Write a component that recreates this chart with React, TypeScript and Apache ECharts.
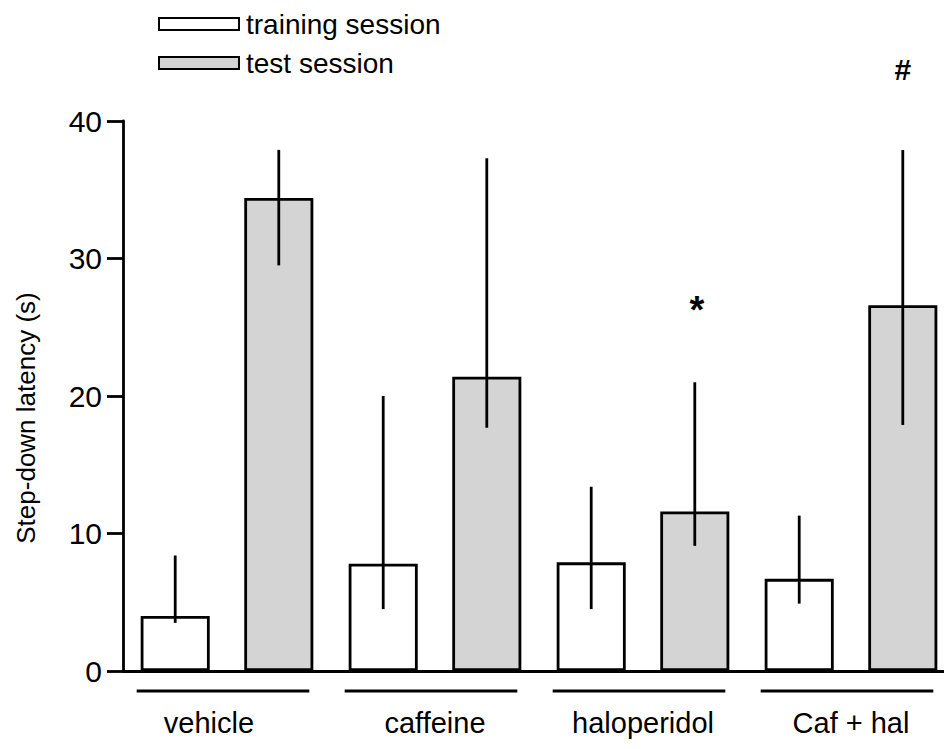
import React, { useEffect, useRef } from "react";
import * as echarts from "echarts";

const categories = ["vehicle", "caffeine", "haloperidol", "Caf + hal"];
const seriesNames = ["training session", "test session"];
const training = [4.0, 7.8, 7.9, 6.7];
const trainingLow = [3.5, 4.5, 4.5, 4.9];
const trainingHigh = [8.4, 20.0, 13.4, 11.3];
const test = [34.4, 21.4, 11.6, 26.6];
const testLow = [29.5, 17.7, 9.1, 17.9];
const testHigh = [37.9, 37.3, 21.0, 37.9];
const trainingMarks = ["", "", "", ""];
const testMarks = ["", "", "*", "#"];
const yTicks = [0, 10, 20, 30, 40];

const CAT_GAP = 0.17;
const BAR_GAP = 0.5;
const LW = 2.8;
const FONT = "Liberation Sans, Arial, Helvetica, sans-serif";

export default function App() {
  const ref = useRef<HTMLDivElement>(null);
  useEffect(() => {
    if (!ref.current) return;
    const chart = echarts.init(ref.current, null, { renderer: "svg" });
    const marks = [trainingMarks, testMarks];
    const errData: number[][] = [];
    categories.forEach((_, i) => {
      errData.push([i, trainingLow[i], trainingHigh[i], 0]);
      errData.push([i, testLow[i], testHigh[i], 1]);
    });
    const option: any = {
      animation: false,
      backgroundColor: "#fff",
      textStyle: { fontFamily: FONT, color: "#000" },
      legend: {
        data: seriesNames.map((n) => ({ name: n, icon: "rect" })),
        orient: "vertical",
        left: 153,
        top: 5,
        itemWidth: 80,
        itemHeight: 12,
        itemGap: 11,
        textStyle: { fontSize: 28, color: "#000", fontFamily: FONT, padding: [0, 0, 0, 2] },
        selectedMode: false,
      },
      grid: {
        left: 123,
        top: 121,
        width: 832,
        height: 550,
        containLabel: false,
        outerBoundsMode: "none",
      },
      xAxis: {
        type: "category",
        data: categories,
        axisLine: { lineStyle: { color: "#000", width: LW } },
        axisTick: { show: false },
        axisLabel: {
          margin: 37,
          fontSize: 29,
          color: "#000",
          fontFamily: FONT,
          formatter: (v: string, i: number) => (i === 0 ? "{v|" + v + "}" : v),
          rich: { v: { fontSize: 29, fontFamily: FONT, color: "#000", padding: [0, 36, 0, 0] } },
        },
      },
      yAxis: {
        type: "value",
        min: yTicks[0],
        max: yTicks[yTicks.length - 1],
        interval: 10,
        name: "Step-down latency (s)",
        nameLocation: "middle",
        nameGap: 84,
        nameTextStyle: { fontSize: 26, color: "#000", fontFamily: FONT, padding: [0, 44, 0, 0] },
        axisLine: { show: true, lineStyle: { color: "#000", width: LW } },
        axisTick: { show: true, length: 16, lineStyle: { color: "#000", width: LW } },
        axisLabel: { fontSize: 30, color: "#000", margin: 21, fontFamily: FONT },
        splitLine: { show: false },
      },
      series: [
        {
          name: seriesNames[0],
          type: "bar",
          data: training,
          barCategoryGap: CAT_GAP * 100 + "%",
          barGap: BAR_GAP * 100 + "%",
          itemStyle: { color: "#ffffff", borderColor: "#000", borderWidth: LW },
        },
        {
          name: seriesNames[1],
          type: "bar",
          data: test,
          barCategoryGap: CAT_GAP * 100 + "%",
          barGap: BAR_GAP * 100 + "%",
          itemStyle: { color: "#d4d4d4", borderColor: "#000", borderWidth: LW },
        },
        {
          type: "custom",
          name: "err",
          data: errData,
          z: 5,
          encode: { x: 0, y: [1, 2] },
          clip: false,
          renderItem: (params: any, api: any) => {
            const cat = api.value(0);
            const side = api.value(3);
            const catW = api.size([1, 0])[0];
            const barW = (catW * (1 - CAT_GAP)) / (2 + BAR_GAP);
            const off = ((barW * (1 + BAR_GAP)) / 2) * (side === 0 ? -1 : 1);
            const lo = api.coord([cat, api.value(1)]);
            const hi = api.coord([cat, api.value(2)]);
            const x = lo[0] + off;
            const children: any[] = [
              {
                type: "line",
                shape: { x1: x, y1: lo[1], x2: x, y2: hi[1] },
                style: { stroke: "#000", lineWidth: LW },
              },
            ];
            const m = marks[side][cat];
            if (m) {
              const isStar = m === "*";
              children.push({
                type: "text",
                style: {
                  text: m,
                  x: x + (isStar ? 2 : 0),
                  y: hi[1] - 80 + (isStar ? 8 : 0),
                  align: "center",
                  verticalAlign: "middle",
                  fontSize: isStar ? 38 : 30,
                  fontWeight: "bold",
                  fontFamily: FONT,
                  fill: "#000",
                },
              });
            }
            return { type: "group", children };
          },
        },
        {
          type: "custom",
          name: "underline",
          data: categories.map((_, i) => [i, 0]),
          encode: { x: 0, y: 1 },
          clip: false,
          silent: true,
          renderItem: (params: any, api: any) => {
            const p = api.coord([api.value(0), 0]);
            const catW = api.size([1, 0])[0];
            const half = (catW * (1 - CAT_GAP)) / 2;
            const cx = p[0] - 4;
            return {
              type: "line",
              shape: { x1: cx - half, y1: p[1] + 20, x2: cx + half, y2: p[1] + 20 },
              style: { stroke: "#000", lineWidth: LW },
            };
          },
        },
      ],
    };
    chart.setOption(option);
    return () => chart.dispose();
  }, []);
  return (
    <div
      ref={ref}
      style={{ position: "absolute", left: 0, top: 0, width: 944, height: 749, background: "#fff" }}
    />
  );
}
